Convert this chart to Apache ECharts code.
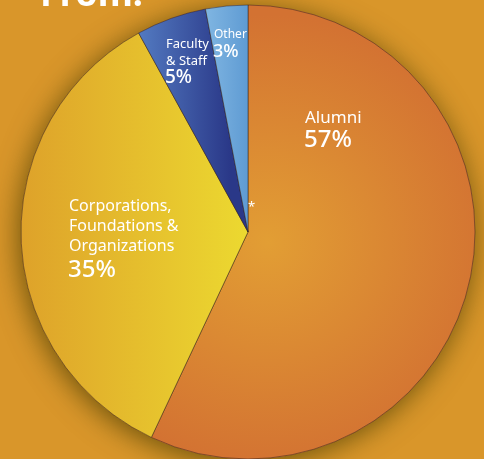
<!DOCTYPE html>
<html>
<head>
<meta charset="utf-8">
<script src="https://cdn.jsdelivr.net/npm/echarts@6/dist/echarts.min.js"></script>
<style>
  html, body { margin: 0; padding: 0; background: #d9962a; }
  #chart { width: 484px; height: 459px; }
</style>
</head>
<body>
<div id="chart"></div>
<script>
const categories = ['Alumni', 'Corporations, Foundations & Organizations', 'Faculty & Staff', 'Other'];
const shares = [57, 35, 5, 3];

const CX = 248, CY = 232, R = 227;
const FONT = '"Noto Sans", "Open Sans", sans-serif';

const sliceColors = [
  { type: 'radial', x: CX + 20, y: CY + 10, r: R, global: true,
    colorStops: [{ offset: 0, color: '#e29e34' }, { offset: 1, color: '#d37232' }] },
  { type: 'linear', x: 22, y: 0, x2: CX, y2: 0, global: true,
    colorStops: [{ offset: 0, color: '#dea22a' }, { offset: 1, color: '#ecd930' }] },
  { type: 'linear', x: 140, y: 0, x2: 230, y2: 0, global: true,
    colorStops: [{ offset: 0, color: '#5279c0' }, { offset: 1, color: '#2a3888' }] },
  { type: 'linear', x: 205, y: 0, x2: CX, y2: 0, global: true,
    colorStops: [{ offset: 0, color: '#80b6e2' }, { offset: 1, color: '#5f9bd3' }] },
];

const chart = echarts.init(document.getElementById('chart'));

const txt = (left, top, text, size, weight) => ({
  type: 'text', left, top, silent: true, z: 100,
  style: { text, fill: '#fff', font: `${weight || 'normal'} ${size}px ${FONT}`, lineHeight: size + 4 },
});

chart.setOption({
  backgroundColor: '#d9962a',
  animation: false,
  graphic: [
    { type: 'text', left: 40, top: -22, silent: true, z: 100,
      style: { text: 'From:', fill: '#fff', font: `bold 36px ${FONT}` } },
    txt(305, 108, 'Alumni', 17),
    txt(304, 126, '57%', 24, 500),
    txt(69, 196, 'Corporations,\nFoundations &\nOrganizations', 16),
    txt(68, 256, '35%', 24, 500),
    txt(166, 36, 'Faculty\n& Staff', 13),
    txt(165, 66, '5%', 19, 500),
    txt(214, 27, 'Other', 12),
    txt(213, 41, '3%', 18, 500),
    txt(248, 199, '*', 13),
  ],
  series: [
    {
      // backdrop disk that casts the shadow ring
      type: 'pie', silent: true, z: 1,
      center: [CX, CY], radius: R,
      label: { show: false },
      itemStyle: { color: '#d37232', shadowBlur: 28, shadowColor: 'rgba(70,60,0,0.75)', shadowOffsetX: -2, shadowOffsetY: 4 },
      data: [{ value: 1, name: 'backdrop' }],
    },
    {
      type: 'pie', z: 2,
      center: [CX, CY], radius: R,
      startAngle: 90, clockwise: true,
      label: { show: false },
      labelLine: { show: false },
      emphasis: { disabled: true },
      itemStyle: { borderColor: 'rgba(40,30,30,0.6)', borderWidth: 0.8 },
      data: categories.map((name, i) => ({
        name, value: shares[i],
        itemStyle: { color: sliceColors[i] },
      })),
    },
  ],
});
</script>
</body>
</html>
